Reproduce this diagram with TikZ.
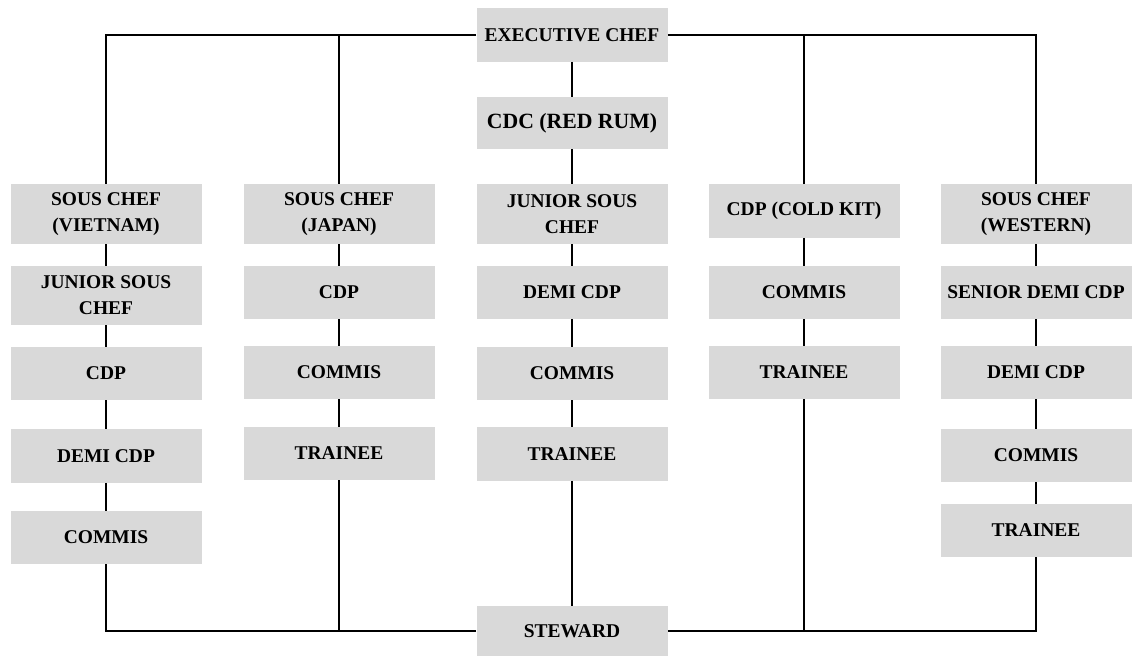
\documentclass[tikz,border=0pt]{standalone}
\usepackage{fontspec}
\setmainfont{Liberation Serif}
\definecolor{postgray}{RGB}{217,217,217}
\begin{document}
\begin{tikzpicture}[x=0.75pt,y=-0.75pt,
  post/.style={fill=postgray,inner sep=0pt,align=center,
    minimum width=143.25pt,minimum height=40pt,
    font=\fontsize{14.6}{19.5}\selectfont\bfseries},
  tall/.style={post,minimum height=45pt},
  link/.style={line width=1.4pt}]
  \useasboundingbox (0,0) rectangle (1136,656);
  % head of kitchen
  \node[post] (exec) at (572,35) {EXECUTIVE CHEF};
  \node[post,minimum height=39pt,font=\fontsize{16.3}{19.5}\selectfont\bfseries] (cdc) at (572,123) {CDC (RED RUM)};
  \node[post,minimum height=37.5pt] (steward) at (572,631) {STEWARD};
  % Vietnam section
  \node[tall] (vn1) at (106,214) {SOUS CHEF\\(VIETNAM)};
  \node[tall,minimum height=44pt] (vn2) at (106,295.5) {JUNIOR SOUS\\CHEF};
  \node[post] (vn3) at (106,373.5) {CDP};
  \node[post] (vn4) at (106,456) {DEMI CDP};
  \node[post] (vn5) at (106,537.5) {COMMIS};
  % Japan section
  \node[tall] (jp1) at (339,214) {SOUS CHEF\\(JAPAN)};
  \node[post] (jp2) at (339,292.5) {CDP};
  \node[post] (jp3) at (339,372.5) {COMMIS};
  \node[post] (jp4) at (339,453.5) {TRAINEE};
  % Red Rum section
  \node[tall] (rr1) at (572,214) {JUNIOR SOUS\\CHEF};
  \node[post] (rr2) at (572,292.5) {DEMI CDP};
  \node[post] (rr3) at (572,373.5) {COMMIS};
  \node[post] (rr4) at (572,454) {TRAINEE};
  % cold kitchen section
  \node[post] (ck1) at (804,211) {CDP (COLD KIT)};
  \node[post] (ck2) at (804,292.5) {COMMIS};
  \node[post] (ck3) at (804,372.5) {TRAINEE};
  % Western section
  \node[tall] (ws1) at (1036,214) {SOUS CHEF\\(WESTERN)};
  \node[post] (ws2) at (1036,292.5) {SENIOR DEMI CDP};
  \node[post] (ws3) at (1036,372.5) {DEMI CDP};
  \node[post] (ws4) at (1036,455.5) {COMMIS};
  \node[post] (ws5) at (1036,530.5) {TRAINEE};
  % top bar
  \draw[link] (exec.west) -| (vn1.north);
  \draw[link] (exec.east) -| (ws1.north);
  \draw[link] (jp1.north) -- (jp1.north |- exec.west);
  \draw[link] (ck1.north) -- (ck1.north |- exec.east);
  % columns
  \draw[link] (exec) -- (cdc) -- (rr1) -- (rr2) -- (rr3) -- (rr4) -- (steward);
  \draw[link] (vn1) -- (vn2) -- (vn3) -- (vn4) -- (vn5);
  \draw[link] (jp1) -- (jp2) -- (jp3) -- (jp4);
  \draw[link] (ck1) -- (ck2) -- (ck3);
  \draw[link] (ws1) -- (ws2) -- (ws3) -- (ws4) -- (ws5);
  % bottom bar
  \draw[link] (steward.west) -| (vn5.south);
  \draw[link] (steward.east) -| (ws5.south);
  \draw[link] (jp4.south) -- (jp4.south |- steward.west);
  \draw[link] (ck3.south) -- (ck3.south |- steward.east);
\end{tikzpicture}
\end{document}
